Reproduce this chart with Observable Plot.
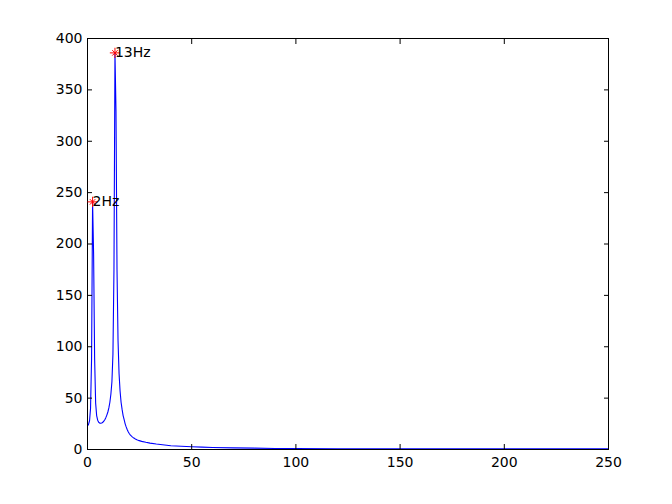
<!DOCTYPE html>
<html>
<head>
<meta charset="utf-8">
<script src="https://cdn.jsdelivr.net/npm/d3@7"></script>
<script src="https://cdn.jsdelivr.net/npm/@observablehq/plot@0.6"></script>
<style>
  html, body { margin: 0; padding: 0; background: #ffffff; }
  #chart { width: 672px; height: 504px; }
</style>
</head>
<body>
<div id="chart"></div>
<script>
// Spectrum samples (Hz) and magnitudes
const freq = [0, 0.49, 0.98, 1.46, 1.95, 2.44, 2.93, 3.42, 3.91, 4.39, 4.88, 5.37, 5.86, 6.35, 6.84, 7.32, 7.81, 8.30, 8.79, 9.28, 9.77, 10.25, 10.74, 11.23, 11.72, 12.21, 12.70, 13.18, 13.67, 14.16, 14.65, 15.14, 15.63, 16.11, 16.60, 17.09, 17.58, 18.07, 18.55, 19.04, 19.53, 20.02, 20.51, 21.00, 21.48, 21.97, 22.46, 22.95, 23.44, 23.93, 24.41, 26, 28, 30, 33, 36, 40, 45, 50, 55, 60, 70, 80, 90, 100, 120, 150, 200, 250];
const amp = [23, 24.5, 28, 40, 88, 241, 190, 88, 45, 33, 28.5, 26.5, 25.7, 25.5, 25.8, 26.5, 27.5, 29, 31, 33.5, 36.5, 40.5, 46, 54, 66, 93, 175, 386, 330, 175, 106, 74, 57, 46, 39, 33, 29, 25, 22, 19.5, 17.3, 15.6, 14.3, 13.2, 12.3, 11.5, 10.9, 10.3, 9.8, 9.3, 8.9, 7.9, 7.0, 6.2, 5.3, 4.6, 3.7, 3.1, 2.7, 2.3, 2.0, 1.6, 1.3, 1.0, 0.9, 0.8, 0.7, 0.6, 0.6];

// Marked peaks
const peakFreq = [2.44, 13.18];
const peakAmp = [241, 386];
const peakLabel = ["2Hz", "13Hz"];

// Axis ticks
const xTicks = [0, 50, 100, 150, 200, 250];
const yTicks = [0, 50, 100, 150, 200, 250, 300, 350, 400];

const series = freq.map((f, i) => ({f, a: amp[i]}));
const peaks = peakFreq.map((f, i) => ({f, a: peakAmp[i], label: peakLabel[i]}));

const chart = Plot.plot({
  width: 672,
  height: 504,
  marginLeft: 87,
  marginRight: 64,
  marginTop: 38,
  marginBottom: 55,
  style: {fontFamily: "DejaVu Sans", fontSize: "14px", background: "#ffffff", color: "#000000", overflow: "visible"},
  x: {domain: [0, 250]},
  y: {domain: [0, 400]},
  marks: [
    Plot.line(series, {x: "f", y: "a", stroke: "#0000ff", strokeWidth: 1.1}),
    Plot.frame({stroke: "#000000"}),
    Plot.axisX({ticks: xTicks, tickSize: -5, tickPadding: 13, label: null, fontSize: 14}),
    Plot.axisX({anchor: "top", ticks: xTicks, tickSize: -5, tickFormat: () => "", label: null}),
    Plot.axisY({ticks: yTicks, tickSize: -5, tickPadding: 10, label: null, fontSize: 14}),
    Plot.axisY({anchor: "right", ticks: yTicks, tickSize: -5, tickFormat: () => "", label: null}),
    Plot.dot(peaks, {x: "f", y: "a", symbol: "plus", r: 3.4, stroke: "#ff0000", strokeWidth: 1}),
    Plot.dot(peaks, {x: "f", y: "a", symbol: "times", r: 2.6, stroke: "#ff0000", strokeWidth: 1}),
    Plot.text(peaks, {x: "f", y: "a", text: "label", textAnchor: "start", dx: 0, fill: "#000000", fontSize: 14})
  ]
});
document.getElementById("chart").appendChild(chart);
</script>
</body>
</html>
